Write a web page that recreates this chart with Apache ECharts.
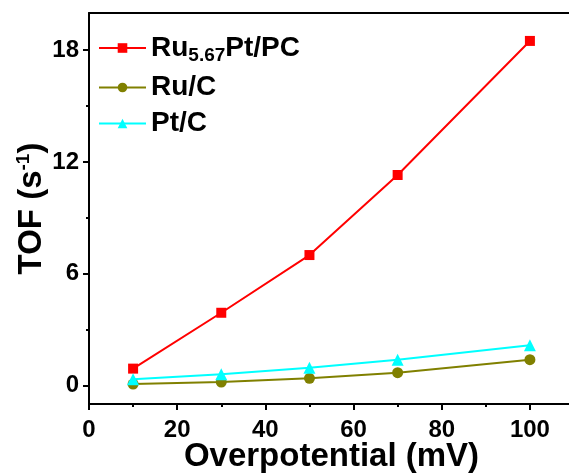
<!DOCTYPE html>
<html>
<head>
<meta charset="utf-8">
<script src="https://cdn.jsdelivr.net/npm/echarts@6/dist/echarts.min.js"></script>
<style>
  html, body { margin: 0; padding: 0; background: #fff; }
  #chart { width: 569px; height: 474px; }
</style>
</head>
<body>
<div id="chart"></div>
<script>
const overpotential = [10, 30, 50, 70, 100];
const ruPtPC = [0.9, 3.9, 7.0, 11.3, 18.5];
const ruC = [0.07, 0.18, 0.38, 0.68, 1.38];
const ptC = [0.33, 0.6, 0.95, 1.38, 2.15];

const seriesNames = ['Ru5.67Pt/PC', 'Ru/C', 'Pt/C'];
const yMajor = [0, 6, 12, 18];
const yMinor = [3, 9, 15];

const font = 'Liberation Sans, Arial, sans-serif';

function pairs(ys) {
  return overpotential.map((x, i) => [x, ys[i]]);
}

const chart = echarts.init(document.getElementById('chart'));

const lineBlack = { color: '#000', width: 2 };
const labelStyle = { color: '#000', fontFamily: font, fontWeight: 'bold', fontSize: 24 };

chart.setOption({
  animation: false,
  grid: { left: 89, top: 13, right: -5, bottom: 70, outerBoundsMode: 'none' },
  legend: {
    left: 93,
    top: 29,
    orient: 'vertical',
    itemWidth: 47,
    itemHeight: 12,
    itemGap: 8,
    data: seriesNames,
    formatter: function (name) {
      if (name === 'Ru5.67Pt/PC') return '{a|Ru}{sub|5.67}{a|Pt/PC}';
      return '{a|' + name + '}';
    },
    textStyle: {
      color: '#000',
      fontFamily: font,
      fontWeight: 'bold',
      fontSize: 28,
      rich: {
        a: { fontFamily: font, fontWeight: 'bold', fontSize: 28, color: '#000' },
        sub: { fontFamily: font, fontWeight: 'bold', fontSize: 19, color: '#000', padding: [16, 0, 0, 0] }
      }
    }
  },
  xAxis: [
    {
      type: 'value',
      min: 0,
      max: 110,
      interval: 20,
      axisLine: { show: true, onZero: false, lineStyle: lineBlack },
      axisTick: { show: true, length: 6, lineStyle: lineBlack },
      minorTick: { show: true, splitNumber: 2, length: 3, lineStyle: lineBlack },
      splitLine: { show: false },
      axisLabel: Object.assign({}, labelStyle, { margin: 14, showMaxLabel: false }),
      name: 'Overpotential (mV)',
      nameLocation: 'middle',
      nameGap: 36,
      nameMoveOverlap: false,
      nameTextStyle: { color: '#000', fontFamily: font, fontWeight: 'bold', fontSize: 33 }
    },
    {
      type: 'value',
      position: 'top',
      min: 0,
      max: 110,
      axisLine: { show: true, onZero: false, lineStyle: lineBlack },
      axisTick: { show: false },
      axisLabel: { show: false },
      splitLine: { show: false }
    }
  ],
  yAxis: [
    {
      type: 'value',
      min: -1,
      max: 20,
      axisLine: { show: true, onZero: false, lineStyle: lineBlack },
      axisTick: { show: true, length: 6, lineStyle: lineBlack, customValues: yMajor },
      splitLine: { show: false },
      axisLabel: Object.assign({}, labelStyle, { margin: 10, customValues: yMajor }),
      name: '{a|TOF (s}{sup|-1}{a|)}',
      nameLocation: 'middle',
      nameGap: 40,
      nameRotate: 90,
      nameMoveOverlap: false,
      nameTextStyle: {
        rich: {
          a: { fontFamily: font, fontWeight: 'bold', fontSize: 33, color: '#000' },
          sup: { fontFamily: font, fontWeight: 'bold', fontSize: 19, color: '#000', padding: [0, 0, 16, 0] }
        }
      }
    },
    {
      type: 'value',
      position: 'left',
      min: -1,
      max: 20,
      axisLine: { show: false, onZero: false },
      axisTick: { show: true, length: 3, lineStyle: lineBlack, customValues: yMinor },
      axisLabel: { show: false },
      splitLine: { show: false }
    }
  ],
  series: [
    {
      name: seriesNames[0],
      type: 'line',
      data: pairs(ruPtPC),
      symbol: 'rect',
      symbolSize: 10,
      itemStyle: { color: '#ff0000' },
      lineStyle: { color: '#ff0000', width: 2 }
    },
    {
      name: seriesNames[1],
      type: 'line',
      data: pairs(ruC),
      symbol: 'circle',
      symbolSize: 11,
      itemStyle: { color: '#808000' },
      lineStyle: { color: '#808000', width: 2 }
    },
    {
      name: seriesNames[2],
      type: 'line',
      data: pairs(ptC),
      symbol: 'triangle',
      symbolSize: 12,
      itemStyle: { color: '#00ffff' },
      lineStyle: { color: '#00ffff', width: 2 }
    }
  ]
});
</script>
</body>
</html>
